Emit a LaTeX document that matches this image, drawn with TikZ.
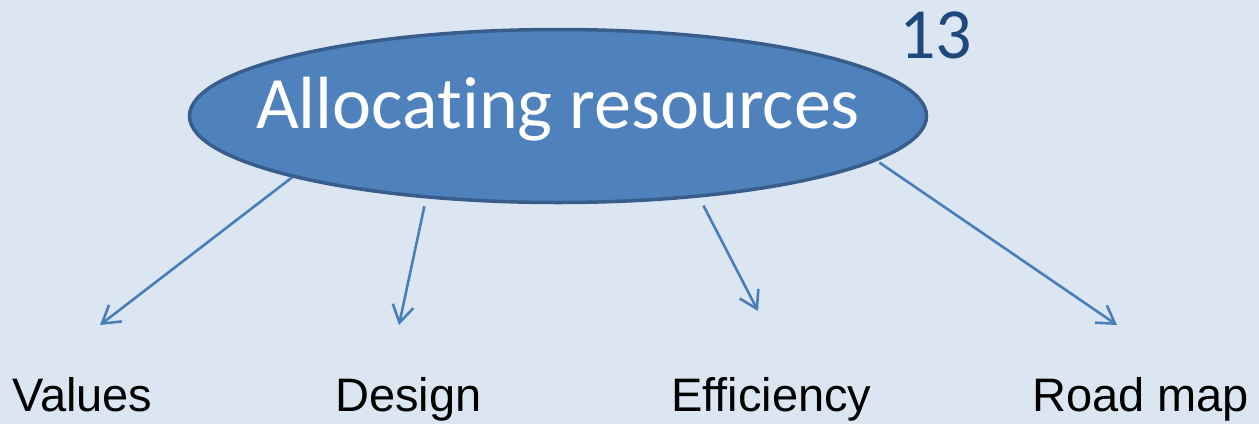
\documentclass[tikz,border=0pt]{standalone}
\usepackage{fontspec}
\usepackage{tikz}
\usetikzlibrary{shapes.geometric,arrows.meta}
\setmainfont{Liberation Sans}
\newfontfamily\calib[Ligatures=NoCommon]{Carlito}

\definecolor{slidebg}{HTML}{DCE6F2}
\definecolor{ovalfill}{HTML}{4F81BD}
\definecolor{ovalline}{HTML}{385D8A}
\definecolor{numcol}{HTML}{1F497D}
\definecolor{arrcol}{HTML}{4A7EBB}

\tikzset{
  oval/.style={ellipse,fill=ovalfill,draw=ovalline,line width=3.5pt,
    minimum width=737pt,minimum height=173pt,inner xsep=-60pt,inner ysep=0pt,
    text depth=27pt,
    text=white,font=\calib\fontsize{74}{80}\selectfont},
  item/.style={anchor=base west,inner sep=0pt,font=\fontsize{47}{50}\selectfont},
  branch/.style={draw=arrcol,line width=2.6pt,-{Straight Barb[length=17pt,width=21pt]}}
}

\begin{document}
\begin{tikzpicture}[x=1pt,y=-1pt]
\fill[slidebg] (0,0) rectangle (1259,424);
\useasboundingbox (0,0) rectangle (1259,424);

\node[oval] (alloc) at (558,116) {Allocating resources};
\node[anchor=base west,inner sep=0pt,text=numcol,font=\calib\fontsize{72}{76}\selectfont]
  (num) at (899,58) {13};

\node[item] (values) at (12,411) {Values};
\node[item] (design) at (335,411) {Design};
\node[item] (effic) at (671,411) {Efficiency};
\node[item] (roadmap) at (1032,411) {Road map};

% arrow tips
\coordinate (tv) at (100,325);
\coordinate (td) at (399,325);
\coordinate (te) at (758,311);
\coordinate (tr) at (1117,325);

\draw[branch] (alloc.193) -- (tv);
\draw[branch,shorten <=8pt] (alloc.212) -- (td);
\draw[branch,shorten <=9pt] (alloc.330) -- (te);
\draw[branch,shorten <=3pt] (alloc.352) -- (tr);
\end{tikzpicture}
\end{document}
